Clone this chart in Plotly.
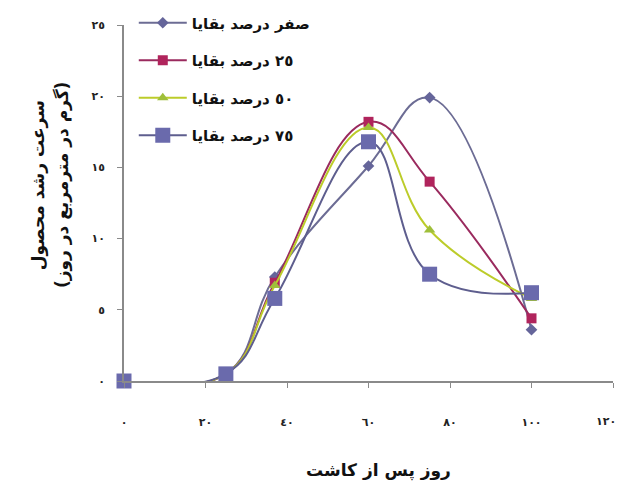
import plotly.graph_objects as go

# Days after planting and crop growth rate (g/m2/day) per residue level
days = [0, 25, 37, 60, 75, 100]
res_0 = [0, 0.5, 7.3, 15.1, 19.9, 3.6]
res_25 = [0, 0.5, 6.9, 18.2, 14.0, 4.4]
res_50 = [0, 0.5, 6.7, 17.8, 10.6, 5.8]
res_75 = [0, 0.5, 5.8, 16.8, 7.5, 6.2]

series_names = [
    "صفر درصد بقایا",
    "٢٥ درصد بقایا",
    "٥٠ درصد بقایا",
    "٧٥ درصد بقایا",
]

x_tickvals = [0, 20, 40, 60, 80, 100, 120]
x_ticktext = ["٠", "٢٠", "٤٠", "٦٠", "٨٠", "١٠٠", "١٢٠"]
y_tickvals = [0, 5, 10, 15, 20, 25]
y_ticktext = ["٠", "٥", "١٠", "١٥", "٢٠", "٢٥"]

# right-to-left mark so the parentheses follow the Persian run
RLM = "\u200f"

styles = [
    dict(line="#6c6c94", marker="#65659a", symbol="diamond", size=9),
    dict(line="#9a2a5e", marker="#b0245c", symbol="square", size=10),
    dict(line="#bccc2a", marker="#9fbf3a", symbol="triangle-up", size=10),
    dict(line="#5e5e8e", marker="#6a6aac", symbol="square", size=15),
]

FONT = "DejaVu Sans"
tick_font = dict(family=FONT, size=11, color="#222222", weight="bold")

fig = go.Figure()
for i, (name, vals, st) in enumerate(zip(series_names, [res_0, res_25, res_50, res_75], styles)):
    fig.add_trace(go.Scatter(
        x=days, y=vals, name=name, mode="lines+markers",
        line=dict(color=st["line"], width=2, shape="spline", smoothing=1.2),
        marker=dict(color=st["marker"], symbol=st["symbol"], size=st["size"],
                    line=dict(width=0)),
        legendgroup=f"g{i}",
        cliponaxis=False,
    ))

# the last x label sits at the page edge, so it is right-aligned to its tick
# as an annotation instead of being centred on it
shown_xtext = x_ticktext[:-1] + [""]

fig.update_layout(
    width=619, height=483,
    margin=dict(l=124, r=6, t=25, b=102),
    paper_bgcolor="white", plot_bgcolor="white",
    showlegend=True,
    legend=dict(
        x=0.02, y=1.052, xanchor="left", yanchor="top",
        font=dict(family=FONT, size=15, color="#111111", weight="bold"),
        tracegroupgap=15, itemwidth=48, bgcolor="rgba(0,0,0,0)",
    ),
    xaxis=dict(
        range=[0, 120], tickvals=x_tickvals, ticktext=shown_xtext,
        showline=True, linecolor="#8a8a8a", linewidth=1.5,
        ticks="outside", ticklen=5, tickcolor="#8a8a8a",
        showgrid=False, zeroline=False, automargin=False,
        ticklabelstandoff=25,
        tickfont=tick_font,
    ),
    yaxis=dict(
        range=[0, 25], tickvals=y_tickvals, ticktext=y_ticktext,
        showline=True, linecolor="#8a8a8a", linewidth=1.5,
        ticks="outside", ticklen=5, tickcolor="#8a8a8a",
        showgrid=False, zeroline=False, automargin=False,
        ticklabelstandoff=10,
        tickfont=tick_font,
    ),
    annotations=[
        dict(text=x_ticktext[-1], xref="x", yref="paper",
             x=x_tickvals[-1], y=-0.115, xanchor="right", yanchor="middle",
             xshift=5, showarrow=False, font=tick_font),
        dict(text="روز پس از کاشت", xref="paper", yref="paper",
             x=0.52, y=-0.25, xanchor="center", yanchor="middle", showarrow=False,
             font=dict(family=FONT, size=17, color="#111111", weight="bold")),
        dict(text=RLM + "سرعت رشد محصول" + RLM, xref="paper", yref="paper",
             x=-0.176, y=0.55, textangle=-90, xanchor="center", yanchor="middle",
             showarrow=False,
             font=dict(family=FONT, size=17, color="#111111", weight="bold")),
        dict(text=RLM + "(گرم در مترمربع در روز)" + RLM, xref="paper", yref="paper",
             x=-0.127, y=0.55, textangle=-90, xanchor="center", yanchor="middle",
             showarrow=False,
             font=dict(family=FONT, size=17, color="#111111", weight="bold")),
    ],
)

fig.write_html("out.html")
